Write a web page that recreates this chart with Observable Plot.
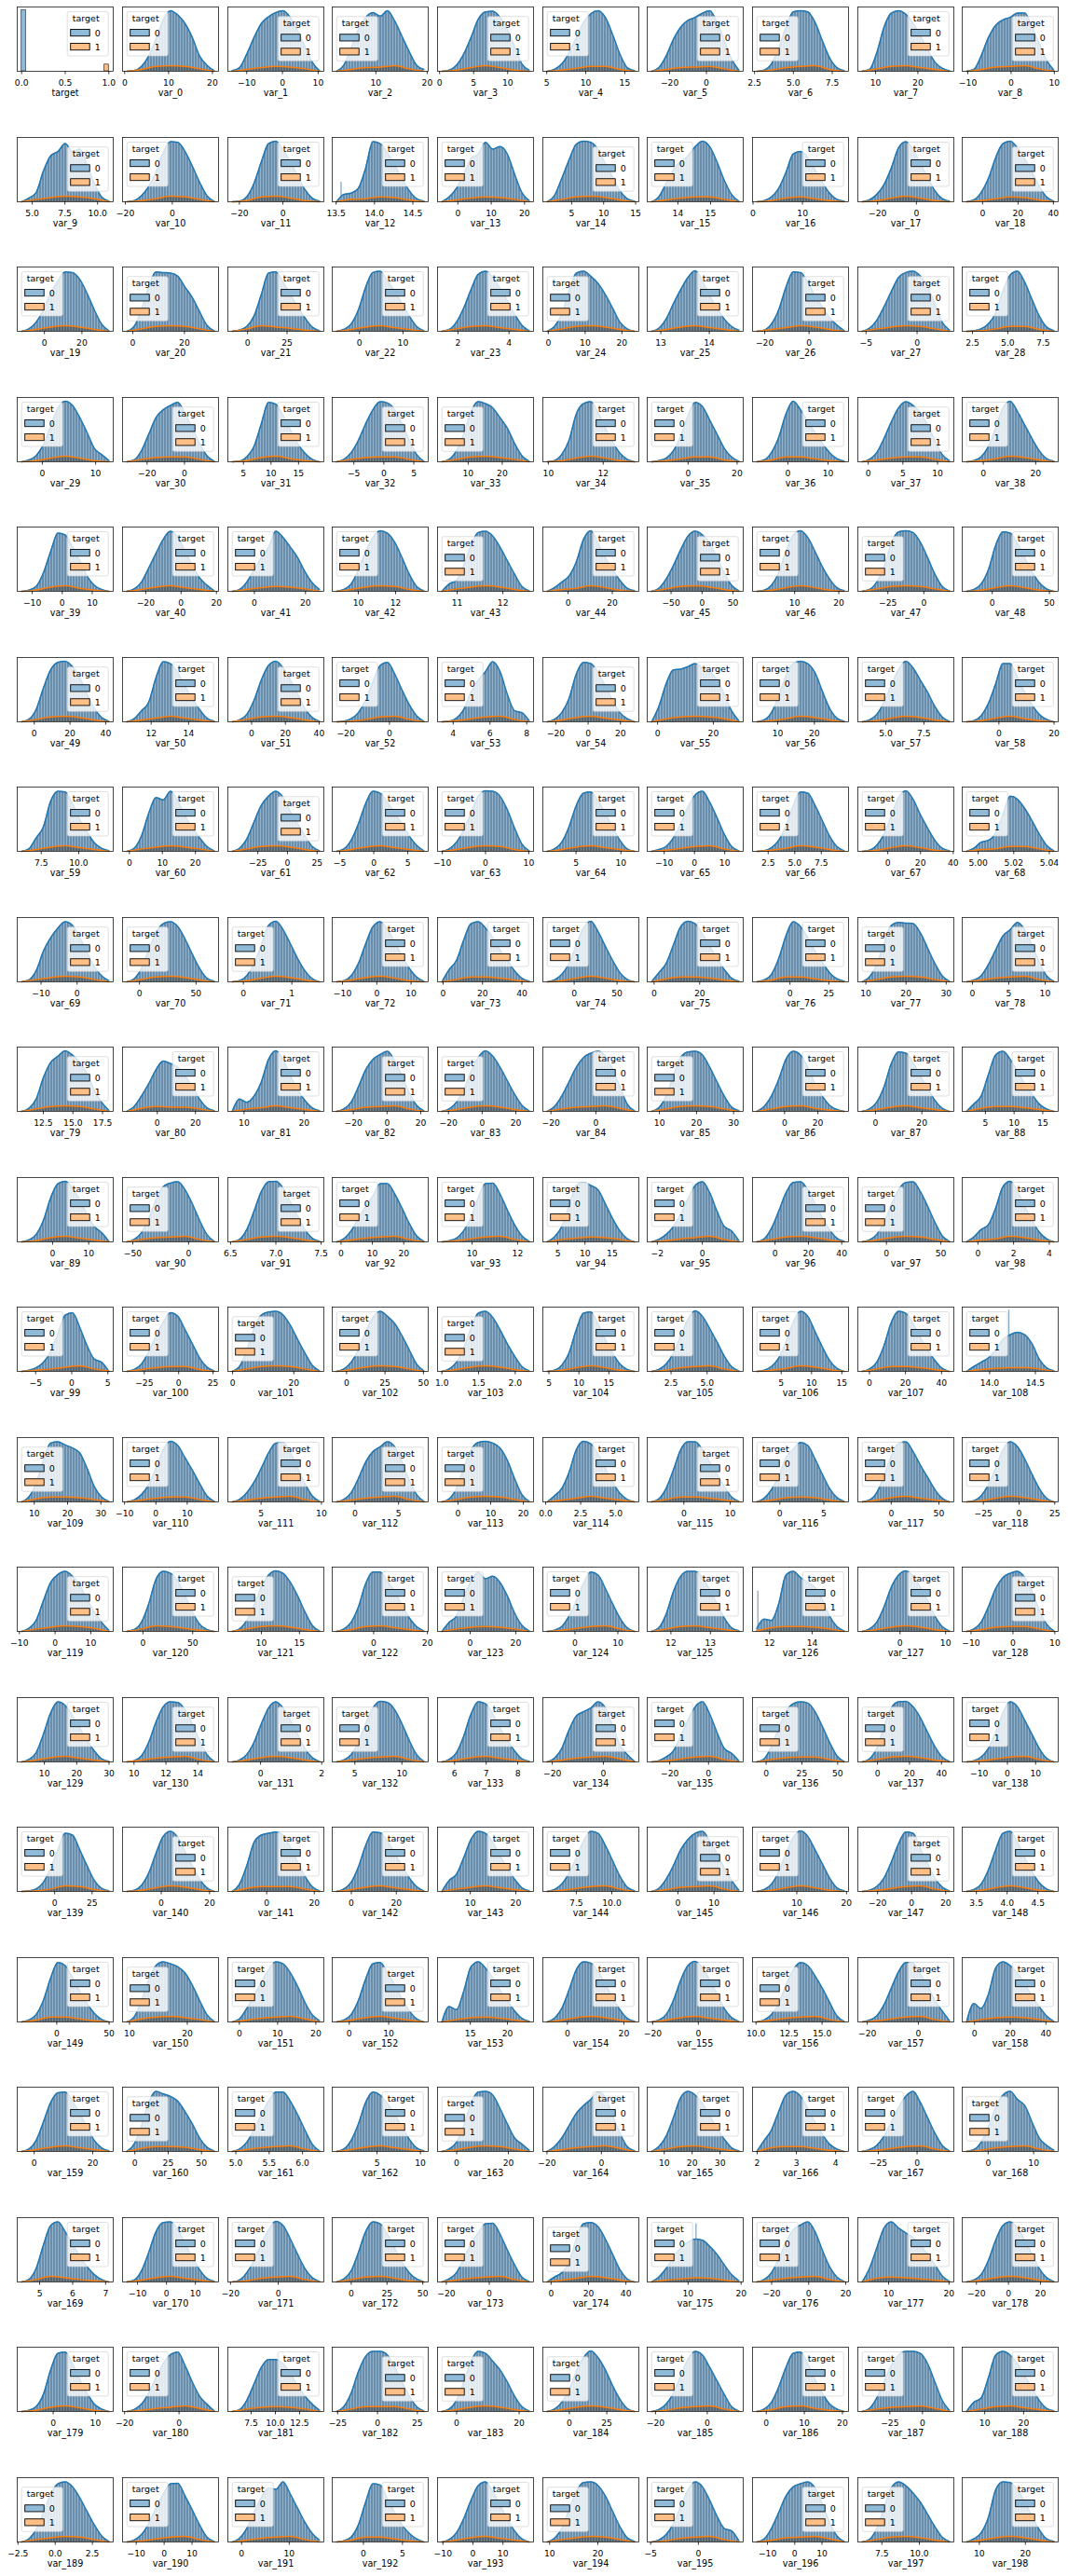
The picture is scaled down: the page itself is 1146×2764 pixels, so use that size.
<!DOCTYPE html>
<html><head><meta charset="utf-8">
<script src="https://cdn.jsdelivr.net/npm/d3@7"></script>
<script src="https://cdn.jsdelivr.net/npm/@observablehq/plot@0.6"></script>
<style>
body{margin:0;background:#fff;}
#fig{position:relative;width:1146px;height:2764px;background:#fff;overflow:hidden;}
#fig svg{position:absolute;}
</style></head><body>
<svg width="0" height="0" style="position:absolute;left:0;top:0">
<defs>
<pattern id="hb" patternUnits="userSpaceOnUse" width="3" height="6"><rect width="3" height="6" fill="#698dab"/><rect x="2" width="1" height="6" fill="#92b3cc"/></pattern>
<pattern id="ho" patternUnits="userSpaceOnUse" width="3" height="6"><rect width="3" height="6" fill="#57656f"/><rect x="2" width="1" height="6" fill="#76848e"/></pattern>
</defs></svg>
<div id="fig"></div>
<script>
// ---------- data ----------
const labels = ["target"].concat(d3.range(199).map(i => "var_" + i));

const xDomains = [
[-0.05,1.05],[-0.5,21.4],[-15.3,11.6],[1.5,20.2],[-0.3,13.8],[4.5,16.8],[-32.2,20],[2.37,8.55],[5.8,28.5],[-11.3,10.9],
[3.85,11.2],[-21.2,19.7],[-25.3,18.8],[13.45,14.7],[-6.1,22.7],[0.5,15.5],[13.06,16.0],[-0.1,19.3],[-30.2,19.3],[-11.5,42.7],
[-14.5,36.7],[-3.95,33.2],[-12.5,48.3],[-6.25,15.8],[1.2,4.96],[-1.5,24.6],[12.72,14.7],[-25.5,17.8],[-5.8,3.6],[1.78,8.56],
[-4.7,13.3],[-33.1,18.2],[2.16,19.6],[-8.6,7.4],[1,29.2],[9.8,13.3],[-16.7,22.5],[-8.8,15.1],[-1.5,12.35],[-8.05,28.6],
[-15,17],[-33.1,21.2],[-10.4,27.2],[8.6,13.75],[10.57,12.67],[-11.4,32],[-88.5,66.5],[0.46,22.2],[-45.8,20.8],[-26.2,57.7],
[-9.5,44.2],[10.47,15.6],[-14.1,42.8],[-26.25,17.8],[3.15,8.37],[-28,31.4],[-3.7,30.7],[3.15,29.3],[3.17,9.46],[-13.3,21.5],
[5.9,12.3],[-2.06,27],[-50.3,30.7],[-6.1,8],[-11.1,11.1],[1.3,12],[-15.6,16.1],[1.03,10.06],[-18.3,40.4],[4.991,5.045],
[-16.6,10],[-15,69.9],[-0.32,1.66],[-13,15],[-2.8,45.9],[-36.5,75.4],[-3,39.1],[-24.1,37.7],[8,31.9],[-1.4,11.8],
[10.3,18.4],[-18.2,32.1],[7.3,23.3],[-32.5,24.4],[-26.5,30.5],[-23.6,19.1],[6.7,32.6],[-19.2,38.4],[-7.6,33.8],[0.95,17.7],
[-9.8,16.8],[-59.1,26.8],[6.47,7.53],[-2.8,27.8],[8.48,12.7],[2.25,19.9],[-2.45,1.82],[-13.5,44.1],[-26.25,61.9],[-0.88,4.5],
[-7.55,5.75],[-40.8,29],[-1.55,29.8],[-9.3,53.1],[0.94,2.25],[3.98,20],[0.85,7.5],[0.28,16.1],[-6.4,46.8],[13.7,14.75],
[4.9,33.7],[-10.65,20],[2.25,10.2],[-2.6,8.4],[-6.25,23.1],[-0.2,6.65],[-7.9,12.8],[-3.1,7.8],[-35,65.7],[-39.8,27.4],
[-10.6,16.3],[-20.5,76],[5.6,18.2],[-15.4,20.3],[-14.3,27.8],[-7.5,14.9],[11.4,13.83],[11.2,15.7],[-9.25,11.8],[-12.1,10.8],
[1.6,31.3],[9.28,15.3],[-1.07,2.07],[2.6,12.8],[5.46,8.5],[-23.7,13.9],[-31.6,17.9],[-9.5,57.6],[-12.3,47.7],[-16,18],
[-25,39.1],[-16,23.7],[-16.3,24],[-8.5,34.2],[2.8,23.9],[5.15,11.9],[-8.5,18.1],[1.1,20.4],[-31.6,24.8],[3.27,4.83],
[-37.7,53.9],[8.8,25.4],[-3,22.1],[-4.3,20],[10.6,23.5],[-8.7,25.3],[-22.4,19.7],[9.74,17],[-23.7,13.9],[-6.9,46.9],
[-5.8,27],[-9.2,62.8],[4.88,6.32],[-0.16,10.9],[-7.4,29.7],[-21.5,13.75],[3.9,38.3],[1.88,4.33],[-38.2,23.7],[-5.7,15.4],
[4.32,7.23],[-15.2,18],[-21.1,19.1],[-13.3,53.8],[-24.1,20.6],[-4.4,46.9],[2.3,20.4],[-30.3,21.5],[4.9,20.8],[-28.9,31.1],
[-8.5,14.2],[-20.75,14.5],[5.1,15],[-28.4,31.8],[-6.1,24.6],[-17.7,46.4],[-23.2,13.9],[-3.6,21.6],[-49.5,24],[4.2,28.9],
[-2.55,3.9],[-14.9,19.5],[-2.9,17.3],[-4,8.3],[-11.8,20.2],[8.6,28.5],[-5.36,4.7],[-15.5,19.75],[5.9,12.3],[6.3,27.1]
];

const xTicks = [
[0,0.5,1],[0,10,20],[-10,0,10],[10,20],[0,5,10],[5,10,15],[-20,0],[2.5,5,7.5],[10,20],[-10,0,10],
[5,7.5,10],[-20,0],[-20,0],[13.5,14,14.5],[0,10,20],[5,10,15],[14,15],[0,10],[-20,0],[0,20,40],
[0,20],[0,20],[0,25],[0,10],[2,4],[0,10,20],[13,14],[-20,0],[-5,0],[2.5,5,7.5],
[0,10],[-20,0],[5,10,15],[-5,0,5],[10,20],[10,12],[0,20],[0,10],[0,5,10],[0,20],
[-10,0,10],[-20,0,20],[0,20],[10,12],[11,12],[0,20],[-50,0,50],[10,20],[-25,0],[0,50],
[0,20,40],[12,14],[0,20,40],[-20,0],[4,6,8],[-20,0,20],[0,20],[10,20],[5,7.5],[0,20],
[7.5,10],[0,10,20],[-25,0,25],[-5,0,5],[-10,0,10],[5,10],[-10,0,10],[2.5,5,7.5],[0,20,40],[5,5.02,5.04],
[-10,0],[0,50],[0,1],[-10,0,10],[0,20,40],[0,50],[0,20],[0,25],[10,20,30],[0,5,10],
[12.5,15,17.5],[0,20],[10,20],[-20,0,20],[-20,0,20],[-20,0],[10,20,30],[0,20],[0,20],[5,10,15],
[0,10],[-50,0],[6.5,7,7.5],[0,10,20],[10,12],[5,10,15],[-2,0],[0,20,40],[0,50],[0,2,4],
[-5,0,5],[-25,0,25],[0,20],[0,25,50],[1,1.5,2],[5,10,15],[2.5,5],[5,10,15],[0,20,40],[14,14.5],
[10,20,30],[-10,0,10],[5,10],[0,5],[0,10,20],[0,2.5,5],[0,10],[0,5],[0,50],[-25,0,25],
[-10,0,10],[0,50],[10,15],[0,20],[0,20],[0,10],[12,13],[12,14],[0,10],[-10,0,10],
[10,20,30],[10,12,14],[0,2],[5,10],[6,7,8],[-20,0],[-20,0],[0,25,50],[0,20,40],[-10,0,10],
[0,25],[0,20],[0,20],[0,20],[10,20],[7.5,10],[0,10],[10,20],[-20,0,20],[3.5,4,4.5],
[0,50],[10,20],[0,10,20],[0,10],[15,20],[0,20],[-20,0],[10,12.5,15],[-20,0],[0,20,40],
[0,20],[0,25,50],[5,5.5,6],[5,10],[0,20],[-20,0],[10,20,30],[2,3,4],[-25,0],[0,10],
[5,6,7],[-10,0,10],[-20,0],[0,25,50],[-20,0],[0,20,40],[10,20],[-20,0,20],[10,20],[-20,0,20],
[0,10],[-20,0],[7.5,10,12.5],[-25,0,25],[0,20],[0,25],[-20,0],[0,10,20],[-25,0],[10,20],
[-2.5,0,2.5],[-10,0,10],[0,10],[0,5],[-10,0,10],[10,20],[-5,0],[-10,0,10],[7.5,10],[10,20]
];

// target panel: bin edges and heights (share of the tallest bar, in %)
const targetBins = [[0,0.05],[0.95,1.0]];
const targetHeights = [100, 11];

// class-0 density (blue), 13 samples across each variable's range, % of panel peak
const blueDensity = [null,
[0,1,8,25,52,84,99,92,78,55,25,10,1],[1,6,28,55,78,89,96,99,88,66,40,15,1],[0,10,38,68,88,96,90,99,82,57,32,10,3],[0,2,10,28,55,85,97,98,88,68,40,12,2],[0,3,12,30,55,80,94,99,88,60,28,6,1],
[0,6,25,52,72,83,88,95,99,80,50,20,2],[0,2,12,38,72,97,99,97,80,50,22,6,1],[0,3,30,72,95,99,93,78,58,35,15,5,1],[0,3,25,55,75,84,88,95,95,72,45,18,2],[0,6,15,50,75,82,95,82,86,60,30,8,1],
[0,2,10,25,48,80,98,97,82,58,32,10,1],[0,1,8,30,65,95,99,85,65,42,20,6,1],[0,12,14,22,55,98,95,80,60,38,18,5,1],[0,8,22,45,70,78,97,86,90,78,45,15,2],[0,10,38,68,94,99,97,85,62,40,18,5,1],
[0,8,30,52,66,75,90,99,90,65,35,12,1],[0,2,8,22,48,78,82,72,52,32,14,4,1],[0,3,12,28,55,88,98,85,62,40,18,5,1],[0,3,15,38,72,95,99,88,70,48,25,8,1],[0,4,15,35,62,82,97,96,85,62,35,12,1],
[0,8,35,72,97,96,95,90,72,55,32,10,1],[0,2,8,25,60,95,97,80,60,40,22,7,1],[0,3,12,35,72,96,98,82,65,45,25,8,1],[0,3,15,38,68,93,98,88,70,50,28,10,1],[0,8,28,65,95,98,90,78,60,38,15,4,0],
[0,5,20,45,68,88,99,82,58,38,20,8,2],[0,2,12,35,72,97,96,80,58,40,22,10,1],[0,5,18,40,65,88,96,98,90,72,45,15,2],[0,1,4,12,30,65,92,98,80,52,25,7,1],[0,3,10,28,58,88,99,92,72,48,22,12,2],
[0,3,18,45,72,85,92,97,78,55,30,10,1],[0,1,8,25,62,97,94,75,52,30,14,4,0],[0,4,15,35,62,85,98,96,85,62,35,12,1],[0,4,18,45,82,98,95,88,72,55,30,10,1],[0,2,12,35,78,95,98,80,55,32,14,4,0],
[0,2,6,18,42,75,97,90,68,45,22,8,1],[0,3,15,40,78,99,85,65,48,30,15,5,1],[0,4,15,38,65,88,98,92,80,60,35,12,2],[0,2,8,25,55,88,99,82,60,38,18,5,1],[0,2,8,30,65,95,92,72,50,25,10,3,0],
[0,4,15,38,62,85,98,88,65,42,22,10,1],[0,3,15,35,55,72,98,88,72,55,32,14,3],[0,3,12,35,65,88,99,95,80,55,28,8,1],[0,12,18,42,75,96,98,90,72,50,28,8,1],[0,6,15,25,48,85,99,78,55,35,18,5,1],
[0,5,20,42,68,90,98,92,78,55,30,10,1],[0,2,10,30,65,92,99,88,65,40,20,6,1],[0,3,15,40,78,97,99,96,80,55,28,8,1],[0,3,12,35,75,97,95,78,55,32,14,4,0],[0,4,20,55,85,97,99,90,72,45,22,7,1],
[0,5,18,32,72,98,95,80,58,38,20,6,1],[0,3,12,35,68,92,99,88,68,45,22,7,1],[0,1,5,15,35,65,92,97,78,52,28,10,1],[0,1,6,20,48,68,82,98,82,45,18,15,2],[0,4,15,38,78,97,95,80,58,35,15,5,0],
[0,25,62,85,86,90,95,88,82,68,45,18,2],[0,3,15,42,75,95,99,95,80,50,22,6,1],[0,3,12,32,60,85,99,88,68,48,25,8,1],[0,2,10,30,62,95,95,72,48,28,12,4,0],[0,4,22,40,82,98,97,78,52,32,14,5,1],
[0,5,25,62,88,84,98,82,58,38,22,8,1],[0,5,20,48,75,90,98,88,65,45,25,8,1],[0,4,18,45,78,98,95,80,62,45,25,10,1],[0,4,15,35,62,90,99,98,90,68,38,12,1],[0,4,15,40,75,95,97,82,62,40,18,4,0],
[0,3,8,22,45,72,92,98,80,55,28,8,1],[0,1,6,18,42,75,97,95,75,50,25,8,1],[0,2,10,28,58,88,99,85,60,38,18,5,1],[0,5,15,18,30,60,90,85,70,50,28,10,1],[0,3,18,50,72,88,98,92,72,48,25,10,2],
[0,5,22,52,80,95,98,90,70,45,22,6,1],[0,2,10,30,60,92,99,85,62,38,18,5,0],[0,2,10,30,62,90,98,85,65,42,22,8,1],[0,20,35,68,95,98,88,72,52,35,18,6,1],[0,3,12,30,60,88,99,82,58,35,15,4,0],
[0,15,30,60,90,99,95,78,58,38,20,6,1],[0,3,12,38,75,98,90,72,50,32,15,5,1],[0,8,28,62,92,97,96,95,80,55,30,10,1],[0,3,10,28,52,75,85,97,85,60,32,10,1],[0,5,20,55,80,90,99,92,80,62,35,15,2],
[0,8,25,45,68,82,78,72,58,40,20,6,1],[0,20,15,25,48,85,99,85,58,35,18,6,1],[0,4,15,40,68,85,93,98,82,58,30,10,1],[0,4,15,35,65,88,99,90,72,50,28,10,1],[0,8,25,48,72,88,95,98,90,68,40,12,1],
[0,6,25,58,88,97,98,92,72,48,25,7,1],[0,8,25,52,85,98,92,72,45,25,10,3,0],[0,4,15,40,78,97,95,80,58,38,18,5,0],[0,12,25,60,92,98,85,65,45,28,12,4,0],[0,3,12,35,72,95,99,88,68,45,25,15,1],
[0,4,15,38,68,90,96,98,85,62,35,12,1],[0,4,20,50,82,98,99,88,65,42,20,6,1],[0,5,18,38,58,75,95,95,78,55,30,10,1],[0,2,6,18,40,72,95,96,78,52,28,10,1],[0,8,25,58,92,97,92,85,62,38,18,5,0],
[0,4,12,25,45,70,92,98,80,50,25,18,2],[0,5,22,50,80,97,98,85,62,40,20,6,1],[0,3,12,32,60,85,97,98,82,58,32,10,1],[0,8,20,28,55,90,99,82,58,35,16,5,0],[0,2,6,15,32,62,92,96,72,42,20,15,0],
[0,3,12,32,58,80,96,90,68,45,22,7,1],[0,8,35,70,92,97,98,92,75,52,30,10,1],[0,4,15,35,65,88,98,90,78,58,35,12,1],[0,4,15,38,70,95,98,88,68,45,25,8,1],[0,2,10,30,68,95,97,78,52,30,12,3,0],
[0,3,12,30,58,85,99,90,70,48,25,8,1],[0,2,8,22,48,80,98,90,65,40,18,5,0],[0,4,15,42,80,98,95,78,55,35,18,5,0],[0,8,15,22,35,52,60,64,60,45,20,6,1],[0,8,30,68,96,98,93,88,80,55,25,8,1],
[0,3,12,28,55,85,99,92,72,52,30,10,1],[0,4,15,32,55,80,96,97,80,55,30,10,1],[0,4,15,38,65,82,90,98,90,65,35,12,1],[0,5,22,55,85,97,99,96,88,68,38,12,1],[0,10,22,48,85,99,95,78,55,32,14,4,0],
[0,5,22,52,85,98,98,85,65,45,25,8,1],[0,6,20,42,72,86,97,92,70,45,22,7,1],[0,3,15,42,75,95,98,82,60,40,20,6,0],[0,2,10,28,55,85,98,90,70,45,22,6,0],[0,5,18,50,80,93,98,90,75,52,32,15,2],
[0,3,15,45,85,98,95,82,58,32,12,3,0],[0,4,18,42,72,92,99,95,80,58,32,10,1],[0,4,15,40,78,97,97,82,65,42,22,8,1],[0,15,25,55,82,96,86,90,80,58,30,10,1],[0,2,8,25,50,78,97,92,70,45,22,6,0],
[0,6,28,65,90,98,98,88,68,45,22,6,1],[5,20,18,45,92,98,88,80,72,52,25,8,1],[0,4,15,40,72,92,99,90,72,50,25,8,1],[0,4,15,40,70,88,95,98,88,65,35,12,1],[0,4,15,45,80,98,92,75,55,35,18,5,1],
[0,2,10,32,65,90,98,97,85,62,35,12,1],[0,3,12,32,62,88,98,88,68,45,22,7,1],[0,3,12,32,62,88,99,97,85,62,35,12,1],[0,4,15,42,78,98,95,78,55,35,18,5,1],[0,6,22,52,75,82,88,98,88,58,28,12,1],
[0,2,8,18,42,68,90,98,78,48,22,14,2],[0,5,25,55,82,95,98,96,82,58,32,10,1],[0,5,22,58,88,98,99,90,72,48,25,8,1],[0,2,8,22,48,80,98,90,68,45,22,6,0],[0,1,4,15,38,68,95,92,68,42,18,5,1],
[0,2,10,30,62,90,98,88,65,42,20,6,0],[0,12,42,80,92,95,97,92,72,48,25,8,1],[0,4,15,40,75,97,96,82,62,42,22,8,1],[0,18,28,55,85,98,95,80,58,38,20,6,1],[0,3,12,30,55,82,98,95,75,50,25,7,1],
[0,5,20,42,68,85,95,98,82,62,38,18,2],[0,3,12,32,62,88,99,90,68,45,22,6,1],[0,2,8,22,48,78,97,95,70,45,22,7,1],[0,3,12,35,68,95,98,80,55,32,14,4,0],[0,3,12,35,72,97,92,72,50,30,14,4,0],
[0,8,35,68,92,98,95,90,80,60,35,12,1],[0,5,22,42,65,85,98,95,80,58,32,12,2],[0,3,12,35,70,95,97,80,60,38,18,5,0],[0,25,20,50,90,98,88,72,52,35,18,6,1],[0,6,22,52,85,98,96,82,62,40,20,6,1],
[0,3,12,35,68,92,99,88,68,45,22,7,1],[0,3,12,30,60,85,97,92,75,55,32,10,1],[0,3,10,28,55,82,97,96,78,58,35,18,2],[0,30,22,45,88,98,92,80,62,42,25,10,1],[0,4,18,48,80,96,97,82,62,40,18,6,1],
[0,12,42,80,98,94,90,82,65,45,22,7,1],[0,4,15,35,60,82,97,97,82,60,35,12,1],[0,4,18,45,80,97,92,78,60,40,20,6,1],[0,4,15,42,78,97,98,92,70,45,22,12,2],[0,8,22,42,62,75,85,97,88,58,30,8,1],
[0,8,25,55,88,98,92,78,58,38,20,6,1],[0,18,35,65,92,98,90,70,48,28,12,4,0],[0,3,10,25,48,72,90,98,80,55,30,10,1],[0,3,15,40,72,92,98,85,75,48,22,10,2],[0,4,22,60,92,98,82,62,42,25,12,4,0],
[0,3,18,48,82,97,98,85,62,40,20,6,1],[0,3,15,35,62,85,99,92,70,45,22,7,1],[0,5,18,48,82,98,95,78,55,32,15,5,0],[0,5,15,38,62,80,95,96,78,52,28,8,1],[0,8,15,32,70,95,97,90,70,45,20,5,0],
[0,8,22,40,55,65,70,68,58,45,28,12,2],[0,4,15,38,65,85,93,98,82,52,25,8,1],[0,22,55,88,98,88,80,72,60,45,28,10,1],[0,3,12,35,68,92,98,88,68,45,22,7,1],[0,2,8,28,68,95,97,78,52,30,12,4,0],
[0,3,12,30,55,78,93,97,75,48,25,12,1],[0,3,18,45,72,85,85,78,62,42,25,12,2],[0,8,30,65,90,98,98,92,72,48,25,8,1],[0,4,18,48,82,98,95,82,68,48,25,8,1],[0,4,15,35,65,88,99,88,68,42,20,5,0],
[0,3,12,30,58,85,98,92,72,50,28,8,1],[0,4,15,40,72,95,97,78,52,30,12,4,0],[0,5,22,48,75,92,98,98,95,78,48,18,2],[0,15,22,55,92,98,92,78,58,38,18,5,1],[0,5,20,48,78,95,98,90,72,50,28,10,1],
[0,3,12,30,55,78,95,96,75,52,28,8,1],[0,6,22,48,72,88,86,98,78,55,32,14,3],[0,2,8,28,65,95,93,70,48,28,14,5,0],[0,4,15,38,68,92,98,82,60,38,18,5,0],[0,6,22,52,82,97,98,92,75,50,25,7,1],
[0,3,12,30,58,85,98,90,68,42,22,18,2],[0,5,22,48,75,90,95,98,88,62,32,10,1],[0,4,22,55,88,98,92,80,65,45,25,8,1],[0,5,15,40,85,98,97,85,65,42,20,5,1]
];

// class-1 density (orange), 7 samples across each variable's range, same % scale
const orangeDensity = [null,
[0,3,8,9,8,4,0],[0,3,6,8,7,4,0],[0,3,6,7,9,4,0],[0,2,6,9,6,2,0],[0,2,5,8,8,3,0],[0,3,6,7,8,4,0],[0,2,6,8,9,3,0],[0,4,8,9,6,3,0],[0,3,7,8,9,4,0],[0,4,7,9,8,5,0],
[0,2,5,9,8,4,0],[0,2,8,9,6,2,0],[0,4,5,8,7,3,0],[0,3,6,8,7,4,0],[0,4,8,9,7,3,0],[0,3,6,8,8,4,0],[0,2,6,8,5,2,0],[0,2,6,9,6,2,0],[0,2,5,8,7,3,0],[0,3,7,9,7,3,0],
[0,4,8,9,8,4,0],[0,4,9,7,5,2,0],[0,3,7,9,6,3,0],[0,4,8,9,6,3,0],[0,4,8,9,7,3,0],[0,3,7,9,6,3,0],[0,3,6,9,7,3,0],[0,4,7,9,8,4,0],[0,1,4,8,8,3,0],[0,2,6,9,6,2,0],
[0,4,7,8,8,4,0],[0,2,7,9,5,2,0],[0,4,7,8,8,4,0],[0,4,8,9,7,4,0],[0,2,6,9,6,2,0],[0,2,5,8,8,3,0],[0,3,8,8,5,2,0],[0,3,6,8,8,4,0],[0,2,5,9,7,3,0],[0,2,7,9,5,2,0],
[0,3,7,9,6,3,0],[0,3,6,8,7,4,0],[0,3,7,9,8,3,0],[0,4,7,9,7,3,0],[0,3,5,9,6,2,0],[0,4,8,9,7,3,0],[0,2,6,9,6,2,0],[0,4,8,9,8,4,0],[0,2,6,9,6,2,0],[0,4,8,9,7,3,0],
[0,3,6,9,6,3,0],[0,4,8,9,7,3,0],[0,1,4,8,9,4,0],[0,2,5,8,9,4,0],[0,3,7,9,6,3,0],[0,5,8,9,8,5,0],[0,2,5,9,7,3,0],[0,2,6,9,7,3,0],[0,2,6,9,5,2,0],[0,3,7,9,6,3,0],
[0,4,7,9,7,4,0],[0,4,8,9,7,3,0],[0,3,7,9,6,3,0],[0,3,7,9,8,3,0],[0,3,7,9,6,3,0],[0,2,5,8,9,4,0],[0,2,5,9,7,3,0],[0,2,6,9,6,2,0],[0,3,4,8,8,4,0],[0,4,7,9,8,4,0],
[0,4,8,9,7,3,0],[0,2,6,9,7,3,0],[0,3,7,9,6,2,0],[0,4,8,8,6,3,0],[0,2,6,9,6,2,0],[0,5,8,8,6,3,0],[0,3,8,8,5,2,0],[0,4,8,9,8,4,0],[0,3,6,8,9,4,0],[0,4,8,9,8,4,0],
[0,5,8,7,7,4,0],[0,4,6,9,6,3,0],[0,3,7,8,9,4,0],[0,3,7,9,7,3,0],[0,4,7,8,9,5,0],[0,4,8,9,8,4,0],[0,4,8,9,5,2,0],[0,3,7,9,6,3,0],[0,5,8,8,6,3,0],[0,2,7,9,6,3,0],
[0,4,7,8,9,4,0],[0,4,8,9,7,3,0],[0,3,6,8,9,4,0],[0,2,5,8,9,4,0],[0,4,6,8,7,4,0],[0,2,5,7,9,4,0],[0,4,8,9,7,3,0],[0,3,7,9,8,4,0],[0,3,5,9,7,3,0],[0,2,4,7,9,4,1],
[0,3,6,8,8,3,0],[0,4,8,9,8,4,0],[0,3,7,9,8,4,0],[0,3,7,9,7,3,0],[0,2,6,9,6,2,0],[0,2,6,8,9,4,0],[0,2,5,9,7,3,0],[0,4,8,8,6,3,0],[0,3,5,6,6,4,0],[0,5,8,8,7,4,0],
[0,3,6,8,8,4,0],[0,3,6,8,9,4,0],[0,3,6,8,9,4,0],[0,4,8,9,8,4,0],[0,3,6,9,6,3,0],[0,4,8,8,6,3,0],[0,3,7,8,7,3,0],[0,3,7,9,6,3,0],[0,2,6,9,7,3,0],[0,4,7,9,8,5,0],
[0,4,9,8,5,2,0],[0,4,8,9,7,3,0],[0,3,8,9,6,3,0],[0,4,7,8,7,4,0],[0,2,5,8,9,4,0],[0,4,8,9,6,3,0],[1,6,8,8,7,4,0],[0,3,7,9,7,3,0],[0,3,7,8,8,4,0],[0,3,7,9,6,3,0],
[0,3,6,8,9,4,0],[0,3,7,9,7,3,0],[0,3,6,8,9,4,0],[0,3,7,9,6,3,0],[0,3,6,8,9,5,0],[0,2,5,8,9,4,0],[0,4,7,8,8,4,0],[0,4,8,9,7,3,0],[0,2,5,8,9,4,0],[0,1,4,9,8,3,0],
[0,2,6,9,7,3,0],[0,5,8,8,8,4,0],[0,3,7,9,6,3,0],[0,4,7,9,6,3,0],[0,2,5,8,9,4,0],[0,3,7,8,9,4,0],[0,2,6,9,6,2,0],[0,2,5,8,9,4,0],[0,2,6,9,6,2,0],[0,3,8,8,5,2,0],
[0,5,8,9,7,4,0],[0,3,6,8,9,5,0],[0,3,7,9,6,3,0],[0,4,7,8,6,3,0],[0,3,7,9,7,3,0],[0,3,7,9,6,3,0],[0,3,6,8,9,4,0],[0,2,5,8,9,4,0],[0,4,7,8,7,4,0],[0,3,7,9,6,3,0],
[0,5,8,8,7,3,0],[0,3,6,8,9,4,0],[0,3,7,9,6,3,0],[0,3,7,9,8,4,0],[0,3,6,8,9,5,0],[0,4,8,9,6,3,0],[0,6,8,8,5,2,0],[0,2,5,8,9,4,0],[0,2,6,8,9,4,0],[0,4,9,7,4,2,0],
[0,3,7,9,6,3,0],[0,2,6,8,9,4,0],[0,4,8,9,6,2,0],[0,3,6,8,9,4,0],[0,3,6,9,7,3,0],[0,3,5,7,6,3,0],[0,3,6,8,9,4,0],[0,6,8,7,5,3,0],[0,3,7,9,7,3,0],[0,2,7,9,6,2,0],
[0,2,5,7,9,5,0],[0,4,7,8,7,4,0],[0,4,8,8,8,4,0],[0,3,7,9,7,3,0],[0,3,7,9,7,3,0],[0,2,6,8,9,4,0],[0,3,8,9,5,2,0],[0,4,7,8,9,5,0],[0,4,8,9,6,3,0],[0,4,7,9,8,4,0],
[0,2,5,8,9,4,0],[0,3,6,8,9,4,0],[0,3,8,8,5,2,0],[0,3,7,9,6,3,0],[0,4,7,9,8,4,0],[0,2,6,8,9,4,0],[0,3,7,8,9,5,0],[0,4,8,9,7,3,0],[0,3,7,9,7,3,0]
];

// narrow single-bin spikes in a few histograms
const spikeVars = ["var_12","var_108","var_126","var_175"];
const spikeX = [13.565, 14.21, 11.45, 11.5];
const spikeH = [32, 100, 66, 95];

// legend placement chosen by matplotlib ("U"=upper/"C"=center, "L"/"R")
const legendLoc = ("UR UL CR CL CR UL CR CL UR CR " +
"CR UL UR UR UL CR UL UR UR CR " +
"UL CL UR UR UR CL UR CR CR UL " +
"UL CR UR CR CL UR UL UR CR UL " +
"UR UR UL UL CL UR CR UL CL UR " +
"CR UR CR UL UL CR UR UL UL UR " +
"UR UR CR UR UL UR UL UL UL UL " +
"CR CL CL UR UR UL UR UR CL CR " +
"CR UR UR CR CL UR CL UR UR UR " +
"UR CL CR UL UL UL UL CR CL UR " +
"UL UL CL UL CL UR UL UL UR UL " +
"CL UL UR CR CL UR CR UL UL UL " +
"CR UR CL UR UL UL UR UR UR CR " +
"UR CR CR CL UR CR UL CL CL UL " +
"UL CR UR UR UR UL CR UL CR UR " +
"UR CL UL CR UR UR UR CL UR UR " +
"UR CL UL UR CL UR UR UR UL CL " +
"UR UR UL UR UL CL UL UL UR UR " +
"UR UL UR CR CL CL UL UR UL UR " +
"CL UL UL UR UR CL UL CR CL UR").split(" ");

// ---------- drawing ----------
const fig = document.getElementById("fig");
const W = 103, H = 69, mL = 12, mR = 12, mT = 4, mB = 42;
const colX = c => 18.3 + 112.65 * c;
const rowY = r => 7.1 + 139.5 * r;

function fmt(ticks) {
  const dec = d3.max(ticks, t => { const s = String(t); const p = s.indexOf("."); return p < 0 ? 0 : s.length - p - 1; });
  return t => t.toFixed(dec).replace("-", "\u2212");
}

function addLegend(svg, loc) {
  const lw = 44, lh = 47.5;
  const lx = loc[1] === "R" ? mL + W - 4.8 - lw : mL + 5.2;
  const ly = loc[0] === "U" ? mT + 5.5 : mT + (H - lh) / 2;
  const g = d3.select(svg).append("g")
    .attr("transform", `translate(${lx},${ly})`)
    .attr("font-family", "'DejaVu Sans', sans-serif").attr("font-size", 9.5);
  g.append("rect").attr("width", lw).attr("height", lh).attr("rx", 2)
    .attr("fill", "#fff").attr("fill-opacity", 0.8)
    .attr("stroke", "#cccccc").attr("stroke-opacity", 0.8).attr("stroke-width", 0.8);
  g.append("text").attr("x", 20).attr("y", 10.5).attr("text-anchor", "middle").attr("fill", "#000").text("target");
  [["0", "#8fbbd9"], ["1", "#ffbf86"]].forEach(([t, c], k) => {
    g.append("rect").attr("x", 3.5).attr("y", 19 + k * 15).attr("width", 20.5).attr("height", 7.2)
      .attr("fill", c).attr("stroke", "#000").attr("stroke-width", 0.9);
    g.append("text").attr("x", 32.5).attr("y", 26.6 + k * 15).attr("text-anchor", "middle").attr("fill", "#000").text(t);
  });
}

labels.forEach((name, i) => {
  const col = i % 10, row = Math.floor(i / 10);
  const [d0, d1] = xDomains[i];
  const span = (d1 - d0) / 1.1;
  const lo = d0 + 0.05 * span, hi = d1 - 0.05 * span;
  const grid = arr => arr.map((v, k) => ({x: lo + k * (hi - lo) / (arr.length - 1), y: v}));
  const marks = [];
  if (i === 0) {
    marks.push(Plot.rectY([0], {x1: k => targetBins[0][0], x2: k => targetBins[0][1], y: k => targetHeights[0], fill: "#8fbbd9", stroke: "#3a4a58", strokeWidth: 0.8}));
    marks.push(Plot.rectY([1], {x1: k => targetBins[1][0], x2: k => targetBins[1][1], y: k => targetHeights[1], fill: "#ffbf86", stroke: "#4a4038", strokeWidth: 0.8}));
  } else {
    const b = grid(blueDensity[i]), o = grid(orangeDensity[i]);
    marks.push(Plot.areaY(b, {x: "x", y: "y", curve: "monotone-x", fill: "url(#hb)"}));
    const s = spikeVars.indexOf(name);
    if (s >= 0) marks.push(Plot.ruleX([s], {x: k => spikeX[k], y1: 0, y2: k => spikeH[k], stroke: "#86a9c4", strokeWidth: 1.3}));
    marks.push(Plot.areaY(o, {x: "x", y: "y", curve: "monotone-x", fill: "url(#ho)"}));
    marks.push(Plot.line(b, {x: "x", y: "y", curve: "monotone-x", stroke: "#1f77b4", strokeWidth: 1.5}));
    marks.push(Plot.line(o, {x: "x", y: "y", curve: "monotone-x", stroke: "#ff7f0e", strokeWidth: 1.5}));
  }
  marks.push(Plot.frame({stroke: "#1a1a1a", strokeWidth: 0.8}));
  marks.push(Plot.axisX({ticks: xTicks[i], tickFormat: fmt(xTicks[i]), tickSize: 3.5, tickPadding: 5.5, fontSize: 9.2, strokeWidth: 0.8}));
  marks.push(Plot.text([name], {text: d => d, frameAnchor: "bottom", dy: 26, fontSize: 9.6, fill: "#000"}));
  const svg = Plot.plot({
    width: W + mL + mR, height: H + mT + mB,
    marginLeft: mL, marginRight: mR, marginTop: mT, marginBottom: mB,
    x: {domain: [d0, d1], label: null},
    y: {domain: [0, 105], axis: null},
    style: {background: "transparent", overflow: "visible", fontFamily: "'DejaVu Sans', sans-serif", fontSize: "9.2px", color: "#000"},
    marks
  });
  svg.style.position = "absolute";
  svg.style.left = (colX(col) - mL) + "px";
  svg.style.top = (rowY(row) - mT) + "px";
  svg.style.maxWidth = "none";
  addLegend(svg, legendLoc[i]);
  fig.appendChild(svg);
});
</script>
</body></html>
